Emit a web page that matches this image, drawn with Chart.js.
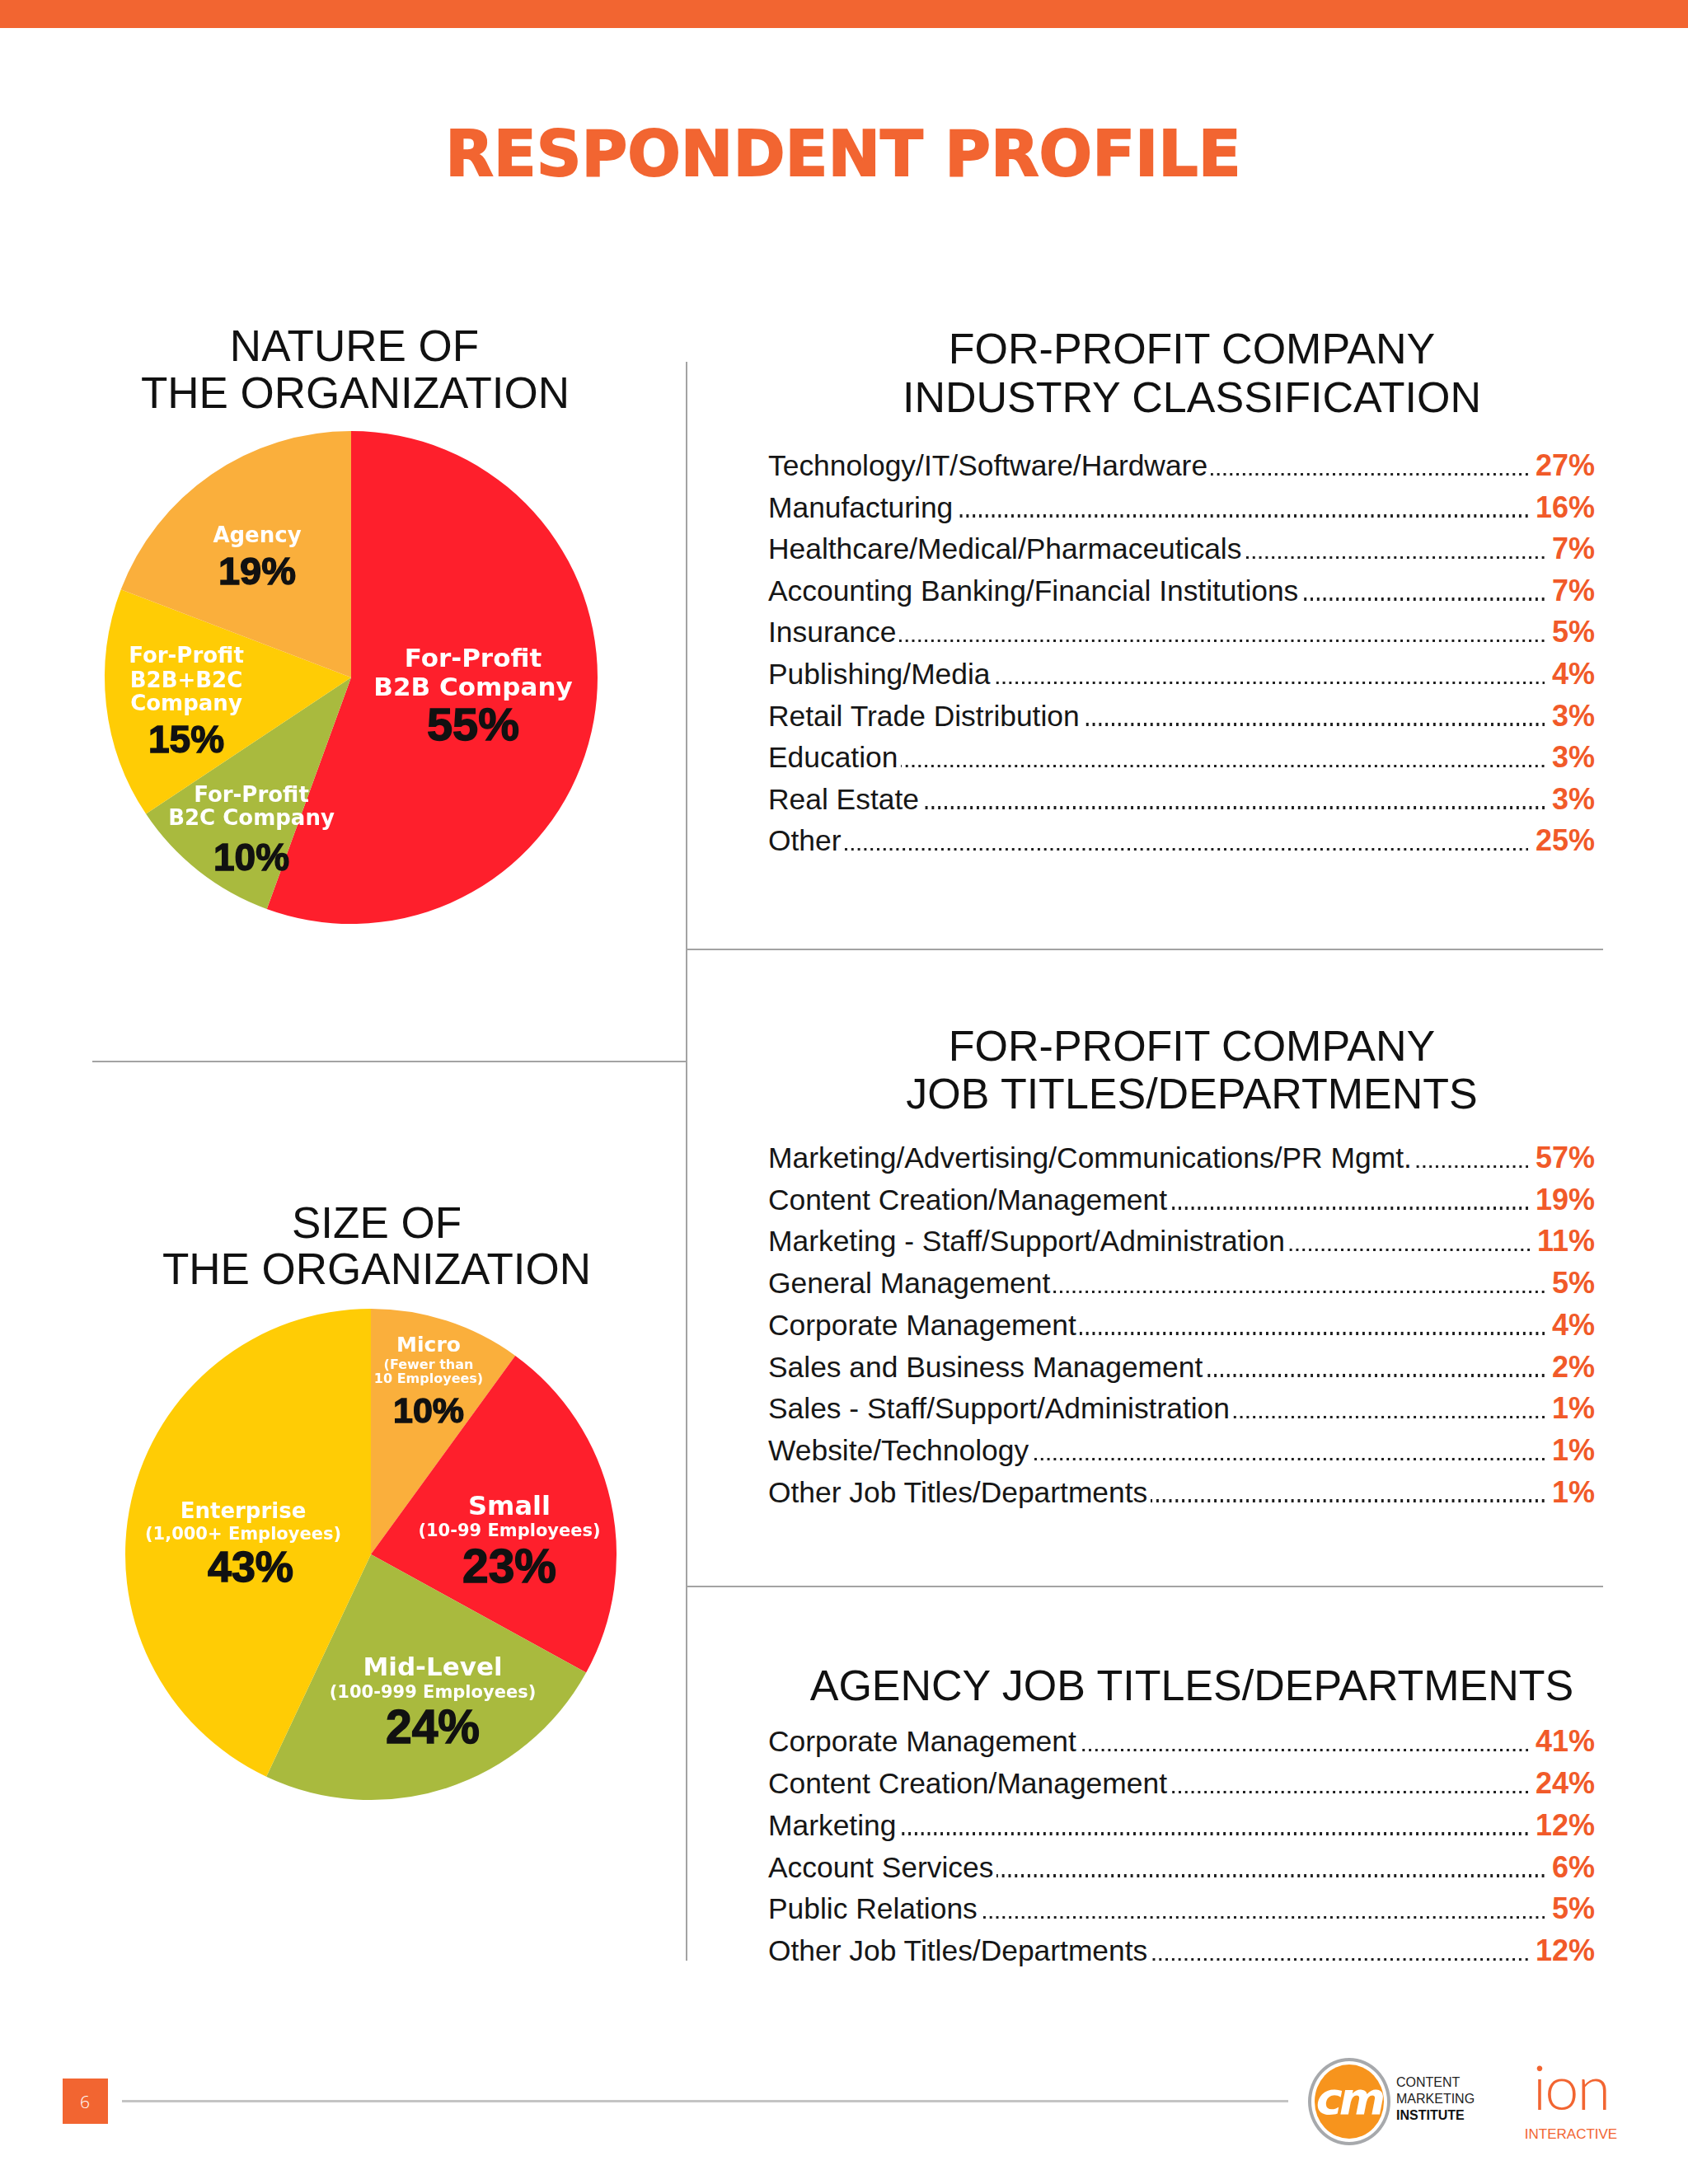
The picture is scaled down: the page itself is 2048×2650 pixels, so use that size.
<!DOCTYPE html>
<html>
<head>
<meta charset="utf-8">
<script src="https://cdn.jsdelivr.net/npm/chart.js"></script>
<style>
  html, body { margin: 0; padding: 0; background: #fff; }
  #page { position: relative; width: 2048px; height: 2650px; overflow: hidden; background: #fff; }
  .t { position: absolute; line-height: 1; white-space: nowrap; }
  .row { position: absolute; left: 932px; width: 1003px; display: flex; align-items: baseline; line-height: 1; }
  .lab { font: 35.4px "Liberation Sans", Arial, sans-serif; color: #161616; white-space: nowrap; }
  .dots { flex: 1; height: 3.4px; margin: 0 9px 0 4px;
          background-image: linear-gradient(to right, transparent 0 4.4px, #1e1e1e 4.4px 7.8px);
          background-size: 7.8px 3.4px; background-repeat: repeat-x; background-position: right bottom; }
  .val { font: bold 36px "Liberation Sans", Arial, sans-serif; color: #F15A29; white-space: nowrap; }
  .line { position: absolute; background: #a3a3a3; }
  canvas { position: absolute; }
</style>
</head>
<body>
<div id="page">
  <div style="position:absolute;left:0;top:0;width:2048px;height:34px;background:#F26531;"></div>
  <canvas id="pie1" width="620" height="620" style="left:116px;top:512px;width:620px;height:620px;"></canvas>
  <canvas id="pie2" width="620" height="620" style="left:140px;top:1576px;width:620px;height:620px;"></canvas>
</div>
<script>
// ---------------- DATA ----------------
const natureLabels = ["For-Profit B2B Company", "For-Profit B2C Company", "For-Profit B2B+B2C Company", "Agency"];
const natureLabelLines = [["For-Profit", "B2B Company"], ["For-Profit", "B2C Company"], ["For-Profit", "B2B+B2C", "Company"], ["Agency"]];
const natureValues = [55, 10, 15, 19];

const sizeLabels = ["Micro", "Small", "Mid-Level", "Enterprise"];
const sizeSubLabels = [["(Fewer than", "10 Employees)"], ["(10-99 Employees)"], ["(100-999 Employees)"], ["(1,000+ Employees)"]];
const sizeValues = [10, 23, 24, 43];

const industryLabels = ["Technology/IT/Software/Hardware", "Manufacturing", "Healthcare/Medical/Pharmaceuticals",
  "Accounting Banking/Financial Institutions", "Insurance", "Publishing/Media", "Retail Trade Distribution",
  "Education", "Real Estate", "Other"];
const industryValues = [27, 16, 7, 7, 5, 4, 3, 3, 3, 25];

const jobLabels = ["Marketing/Advertising/Communications/PR Mgmt.", "Content Creation/Management",
  "Marketing - Staff/Support/Administration", "General Management", "Corporate Management",
  "Sales and Business Management", "Sales - Staff/Support/Administration", "Website/Technology",
  "Other Job Titles/Departments"];
const jobValues = [57, 19, 11, 5, 4, 2, 1, 1, 1];

const agencyLabels = ["Corporate Management", "Content Creation/Management", "Marketing", "Account Services",
  "Public Relations", "Other Job Titles/Departments"];
const agencyValues = [41, 24, 12, 6, 5, 12];

// ---------------- STYLES ----------------
const RED = '#FE1F2C', OLIVE = '#A9BA3E', YELLOW = '#FFCC05', LORANGE = '#FAAF3C';
const natureColors = [RED, OLIVE, YELLOW, LORANGE];
const sizeColors = [LORANGE, RED, OLIVE, YELLOW];
const NAME_FONT = '"DejaVu Sans", Arial, sans-serif';
const PCT_FONT = '"Liberation Sans", Arial, sans-serif';

const page = document.getElementById('page');
function txt(text, x, baseline, size, opts) {
  opts = opts || {};
  const d = document.createElement('div');
  d.className = 't';
  d.textContent = text;
  d.style.fontSize = size + 'px';
  d.style.fontFamily = opts.family || '"Liberation Sans", Arial, sans-serif';
  d.style.fontWeight = opts.weight || 'normal';
  d.style.color = opts.color || '#111';
  d.style.top = (baseline - (opts.asc || 0.846) * size) + 'px';
  d.style.left = x + 'px';
  if (opts.align !== 'left') d.style.transform = 'translateX(-50%)';
  if (opts.css) Object.assign(d.style, opts.css);
  page.appendChild(d);
  return d;
}
function line(x, y, w, h) {
  const d = document.createElement('div');
  d.className = 'line';
  Object.assign(d.style, { left: x + 'px', top: y + 'px', width: w + 'px', height: h + 'px' });
  page.appendChild(d);
}
function list(labels, values, firstBaseline, step) {
  labels.forEach((l, i) => {
    const row = document.createElement('div');
    row.className = 'row';
    row.style.top = (firstBaseline + step * i - 0.846 * 36) + 'px';
    const a = document.createElement('span'); a.className = 'lab'; a.textContent = l;
    const b = document.createElement('span'); b.className = 'dots';
    const c = document.createElement('span'); c.className = 'val'; c.textContent = values[i] + '%';
    row.append(a, b, c);
    page.appendChild(row);
  });
}

// ---------------- STATIC TEXT ----------------
txt('RESPONDENT PROFILE', 1023, 213, 76, { family: '"DejaVu Sans", sans-serif', weight: 'bold', color: '#F26531',
  css: { webkitTextStroke: '1.8px #F26531' } });

txt('NATURE OF', 430, 438, 53);
txt('THE ORGANIZATION', 431, 495, 53);
txt('SIZE OF', 457, 1502, 53);
txt('THE ORGANIZATION', 457, 1558, 53);

txt('FOR-PROFIT COMPANY', 1446, 441, 52);
txt('INDUSTRY CLASSIFICATION', 1446, 500, 52);
txt('FOR-PROFIT COMPANY', 1446, 1287, 52);
txt('JOB TITLES/DEPARTMENTS', 1446, 1345, 52);
txt('AGENCY JOB TITLES/DEPARTMENTS', 1446, 2063, 52);

list(industryLabels, industryValues, 574.5, 50.6);
list(jobLabels, jobValues, 1414.5, 50.7);
list(agencyLabels, agencyValues, 2122.7, 50.8);

// separators
line(832, 439, 2, 1940);
line(112, 1287, 721, 2);
line(833, 1151, 1112, 2);
line(833, 1924, 1112, 2);

// footer
const sq = document.createElement('div');
Object.assign(sq.style, { position: 'absolute', left: '76px', top: '2522px', width: '55px', height: '55px', background: '#F26531' });
page.appendChild(sq);
txt('6', 103, 2558, 21, { color: '#fff', family: '"Open Sans", sans-serif', css: { fontWeight: '300' } });
const fl = document.createElement('div');
Object.assign(fl.style, { position: 'absolute', left: '148px', top: '2548px', width: '1415px', height: '3px', background: '#c4c4c4' });
page.appendChild(fl);

// CMI logo
const ring = document.createElement('div');
Object.assign(ring.style, { position: 'absolute', left: '1587px', top: '2497px', width: '92px', height: '98px',
  border: '4px solid #a7a9ac', borderRadius: '50%', background: '#fff' });
page.appendChild(ring);
const disc = document.createElement('div');
Object.assign(disc.style, { position: 'absolute', left: '1595px', top: '2505px', width: '84px', height: '90px',
  borderRadius: '50%', background: '#F7941D' });
page.appendChild(disc);
txt('cm', 1637, 2566, 54, { color: '#fff', weight: 'bold', family: '"DejaVu Sans", sans-serif', css: { fontStyle: 'italic', letterSpacing: '-4px' } });
const cmi = document.createElement('div');
Object.assign(cmi.style, { position: 'absolute', left: '1694px', top: '2517px', font: '16px "Liberation Sans Narrow", "Liberation Sans", sans-serif',
  lineHeight: '20px', color: '#222', whiteSpace: 'nowrap' });
cmi.innerHTML = 'CONTENT<br>MARKETING<br><b style="color:#111">INSTITUTE</b>';
page.appendChild(cmi);
// ion logo
txt('ion', 1906, 2561, 74, { color: '#F26531', family: 'Lato, "Open Sans", sans-serif', asc: 0.887, css: { fontWeight: '300', letterSpacing: '-2px' } });
txt('INTERACTIVE', 1906, 2595, 17, { color: '#F26531', family: '"Liberation Sans Narrow", "Liberation Sans", sans-serif' });

// ---------------- PIE LABEL PLUGIN ----------------
const pieLabels = {
  id: 'pieLabels',
  afterDatasetsDraw(chart, args, opts) {
    const ctx = chart.ctx;
    const meta = chart.getDatasetMeta(0);
    const values = chart.data.datasets[0].data;
    meta.data.forEach((arc, i) => {
      const p = arc.getProps(['x', 'y', 'outerRadius'], true);
      const k = p.outerRadius / opts.refRadius;
      const spec = opts.layout[i];
      const texts = opts.lines[i].concat([values[i] + '%']);
      texts.forEach((t, j) => {
        const s = spec.lines[j];
        const isPct = j === texts.length - 1;
        ctx.save();
        ctx.textAlign = 'center';
        ctx.textBaseline = 'alphabetic';
        ctx.font = 'bold ' + s.size + 'px ' + (isPct ? PCT_FONT : NAME_FONT);
        const x = p.x + (s.dx !== undefined ? s.dx : spec.dx) * k;
        const y = p.y + s.dy * k;
        if (isPct) {
          ctx.fillStyle = '#111';
          ctx.strokeStyle = '#111';
          ctx.lineWidth = 1.4;
          ctx.strokeText(t, x, y);
        } else {
          ctx.fillStyle = '#fff';
        }
        ctx.fillText(t, x, y);
        ctx.restore();
      });
    });
  }
};

function makePie(id, labels, values, colors, lines, layout, radius, pad) {
  return new Chart(document.getElementById(id), {
    type: 'pie',
    data: { labels: labels, datasets: [{ data: values, backgroundColor: colors, borderWidth: 0 }] },
    options: {
      responsive: false, animation: false, events: [],
      layout: { padding: pad },
      plugins: { legend: { display: false }, tooltip: { enabled: false },
        pieLabels: { lines: lines, layout: layout, refRadius: radius } }
    },
    plugins: [pieLabels]
  });
}

makePie('pie1', natureLabels, natureValues, natureColors, natureLabelLines, [
  { dx: 148, lines: [{ size: 31, dy: -13 }, { size: 31, dy: 22 }, { size: 56, dy: 76 }] },
  { dx: -121, lines: [{ size: 26, dy: 151 }, { size: 26, dy: 179 }, { size: 46, dy: 234 }] },
  { dx: -200, lines: [{ size: 26, dy: -18 }, { size: 26, dy: 12 }, { size: 26, dy: 40 }, { size: 46, dy: 91 }] },
  { dx: -114, lines: [{ size: 26, dy: -164 }, { size: 47, dy: -113 }] }
], 299, 11);

const sizeLines = sizeLabels.map((l, i) => [l].concat(sizeSubLabels[i]));
makePie('pie2', sizeLabels, sizeValues, sizeColors, sizeLines, [
  { dx: 70, lines: [{ size: 25, dy: -246 }, { size: 16, dy: -225 }, { size: 16, dy: -208 }, { size: 43, dy: -160 }] },
  { dx: 168, lines: [{ size: 32, dy: -48 }, { size: 21, dy: -22 }, { size: 57, dy: 34 }] },
  { dx: 75, lines: [{ size: 31, dy: 147 }, { size: 21, dy: 174 }, { size: 57, dy: 229 }] },
  { dx: -155, lines: [{ size: 26, dy: -44 }, { size: 21, dy: -18 }, { size: 52, dy: 33, dx: -146 }] }
], 298, 12);
</script>
</body>
</html>
